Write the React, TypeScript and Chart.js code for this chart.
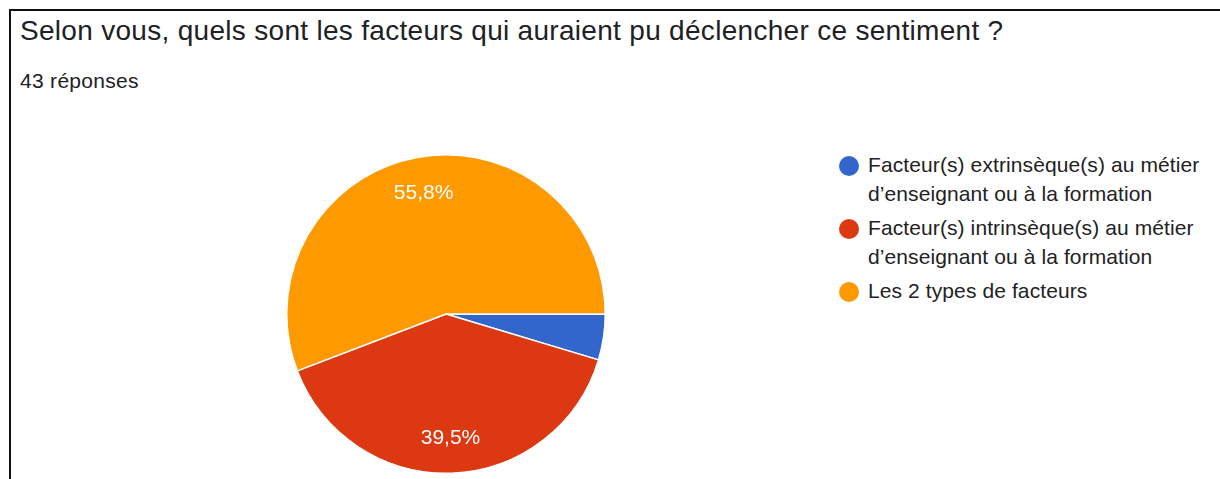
import React, { useEffect, useRef } from "react";
import { Chart, registerables } from "chart.js";

Chart.register(...registerables);

const title = "Selon vous, quels sont les facteurs qui auraient pu déclencher ce sentiment ?";
const subtitle = "43 réponses";
const categories = [
  ["Facteur(s) extrinsèque(s) au métier", "d’enseignant ou à la formation"],
  ["Facteur(s) intrinsèque(s) au métier", "d’enseignant ou à la formation"],
  ["Les 2 types de facteurs"],
];
const counts = [2, 17, 24];
const colors = ["#3366cc", "#dc3912", "#ff9900"];

const FONT = "'Liberation Sans', Arial, sans-serif";

const pctLabels = {
  id: "pctLabels",
  afterDatasetsDraw(chart: any) {
    const ctx = chart.ctx;
    const meta = chart.getDatasetMeta(0);
    const data = chart.data.datasets[0].data as number[];
    const total = data.reduce((a, b) => a + b, 0);
    ctx.save();
    ctx.fillStyle = "#ffffff";
    ctx.font = "21px " + FONT;
    ctx.textAlign = "center";
    ctx.textBaseline = "middle";
    meta.data.forEach((arc: any, i: number) => {
      const pct = (data[i] / total) * 100;
      if (pct < 10) return;
      const mid = (arc.startAngle + arc.endAngle) / 2;
      const r = arc.outerRadius * 0.775;
      const x = arc.x + Math.cos(mid) * r;
      const y = arc.y + Math.sin(mid) * r;
      ctx.fillText(pct.toFixed(1).replace(".", ",") + "%", x, y + 1);
    });
    ctx.restore();
  },
};

export default function App() {
  const ref = useRef<HTMLCanvasElement | null>(null);
  useEffect(() => {
    if (!ref.current) return;
    const chart = new Chart(ref.current, {
      type: "pie",
      data: {
        labels: categories.map((c) => c.join(" ")),
        datasets: [
          {
            data: counts,
            backgroundColor: colors,
            borderColor: "#ffffff",
            borderWidth: 1.5,
          },
        ],
      },
      options: {
        animation: false,
        responsive: false,
        rotation: 90,
        layout: { padding: 0 },
        plugins: { legend: { display: false }, tooltip: { enabled: false } },
      },
      plugins: [pctLabels],
    });
    return () => chart.destroy();
  }, []);

  return (
    <div
      style={{
        position: "absolute",
        left: 0,
        top: 0,
        width: 1220,
        height: 479,
        background: "#fff",
        overflow: "hidden",
        fontFamily: FONT,
      }}
    >
      <div
        style={{
          position: "absolute",
          left: 9,
          top: 9,
          width: 1230,
          height: 500,
          borderTop: "2px solid #111",
          borderLeft: "2px solid #111",
        }}
      />
      <div
        style={{
          position: "absolute",
          left: 20,
          top: 17,
          fontSize: 28,
          letterSpacing: 0.3,
          lineHeight: 1,
          color: "#202124",
          whiteSpace: "nowrap",
        }}
      >
        {title}
      </div>
      <div
        style={{
          position: "absolute",
          left: 20,
          top: 70,
          fontSize: 21,
          letterSpacing: 0.3,
          lineHeight: 1,
          color: "#202124",
        }}
      >
        {subtitle}
      </div>
      <canvas
        ref={ref}
        width={320}
        height={320}
        style={{ position: "absolute", left: 286, top: 154, width: 320, height: 320 }}
      />
      <div style={{ position: "absolute", left: 839, top: 150 }}>
        {categories.map((lines, i) => (
          <div key={i} style={{ display: "flex", alignItems: "flex-start", marginBottom: 5 }}>
            <div
              style={{
                width: 20,
                height: 20,
                borderRadius: 10,
                background: colors[i],
                marginTop: 6,
                marginRight: 9,
                flex: "none",
              }}
            />
            <div style={{ fontSize: 21, lineHeight: "29px", letterSpacing: 0.1, color: "#222" }}>
              {lines.map((l, j) => (
                <div key={j} style={{ whiteSpace: "nowrap" }}>
                  {l}
                </div>
              ))}
            </div>
          </div>
        ))}
      </div>
    </div>
  );
}
